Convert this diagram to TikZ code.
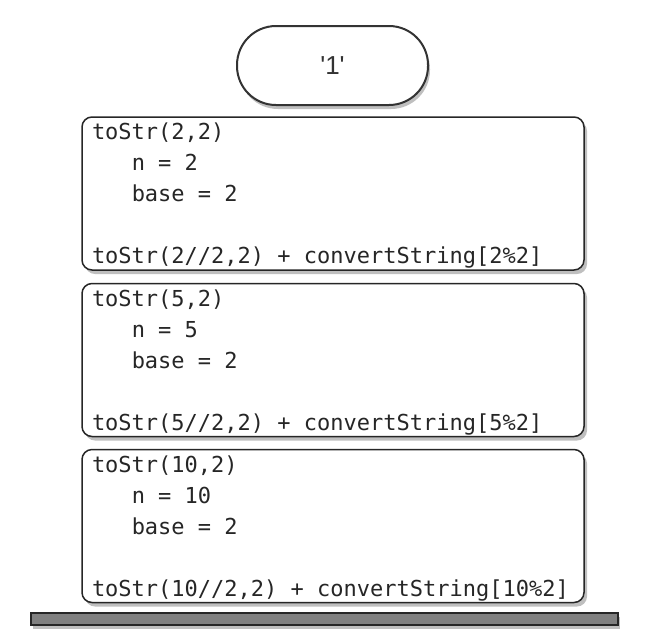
\documentclass[tikz,border=0pt]{standalone}
\usepackage{fontspec}
\setmonofont{DejaVu Sans Mono}
\newfontfamily\pillfont{Liberation Sans}
\usetikzlibrary{shapes.geometric, shadows}
\tikzstyle{result} = [rectangle, rounded corners=39pt, minimum width=191pt, minimum height=79pt, draw=black!80, line width=2pt, fill=white, font=\pillfont\fontsize{26}{30}\selectfont, text=black!80, drop shadow={shadow xshift=2pt, shadow yshift=-4pt, opacity=0.5}]
\tikzstyle{frame} = [rectangle, rounded corners=10pt, minimum width=502pt, minimum height=153pt, text width=482pt, inner xsep=10pt, inner ysep=0pt, align=left, draw=black!85, line width=1.5pt, fill=white, font=\ttfamily\fontsize{22}{31}\selectfont, text=black!85, execute at begin node={\spaceskip=13.25pt\xspaceskip=13.25pt\relax\rule{0pt}{21pt}}, drop shadow={shadow xshift=3pt, shadow yshift=-4pt, opacity=0.5}]
\tikzstyle{ground} = [rectangle, minimum width=587pt, minimum height=12pt, inner sep=0pt, draw=black!85, line width=1.5pt, fill=black!50, drop shadow={shadow xshift=2pt, shadow yshift=-4pt, opacity=0.5}]

\begin{document}
\begin{tikzpicture}[x=1pt, y=-1pt]
        \useasboundingbox (0,0) rectangle (650,638);
        \node (base) [ground] at (324.5,619) {};
        \node (call_ten) [frame] at (333,526) {toStr(10,2)\\
        \ \ \ n = 10\\ \ \ \ base = 2\\[31pt]
        toStr(10//2,2) + convertString[10\%2]};
        \node (call_five) [frame] at (333,360) {toStr(5,2)\\
        \ \ \ n = 5\\ \ \ \ base = 2\\[31pt]
        toStr(5//2,2) + convertString[5\%2]};
        \node (call_two) [frame] at (333,193.5) {toStr(2,2)\\
        \ \ \ n = 2\\ \ \ \ base = 2\\[31pt]
        toStr(2//2,2) + convertString[2\%2]};
        \node (answer) [result] at (332.5,65.5) {'1'};
    \end{tikzpicture}
\end{document}
